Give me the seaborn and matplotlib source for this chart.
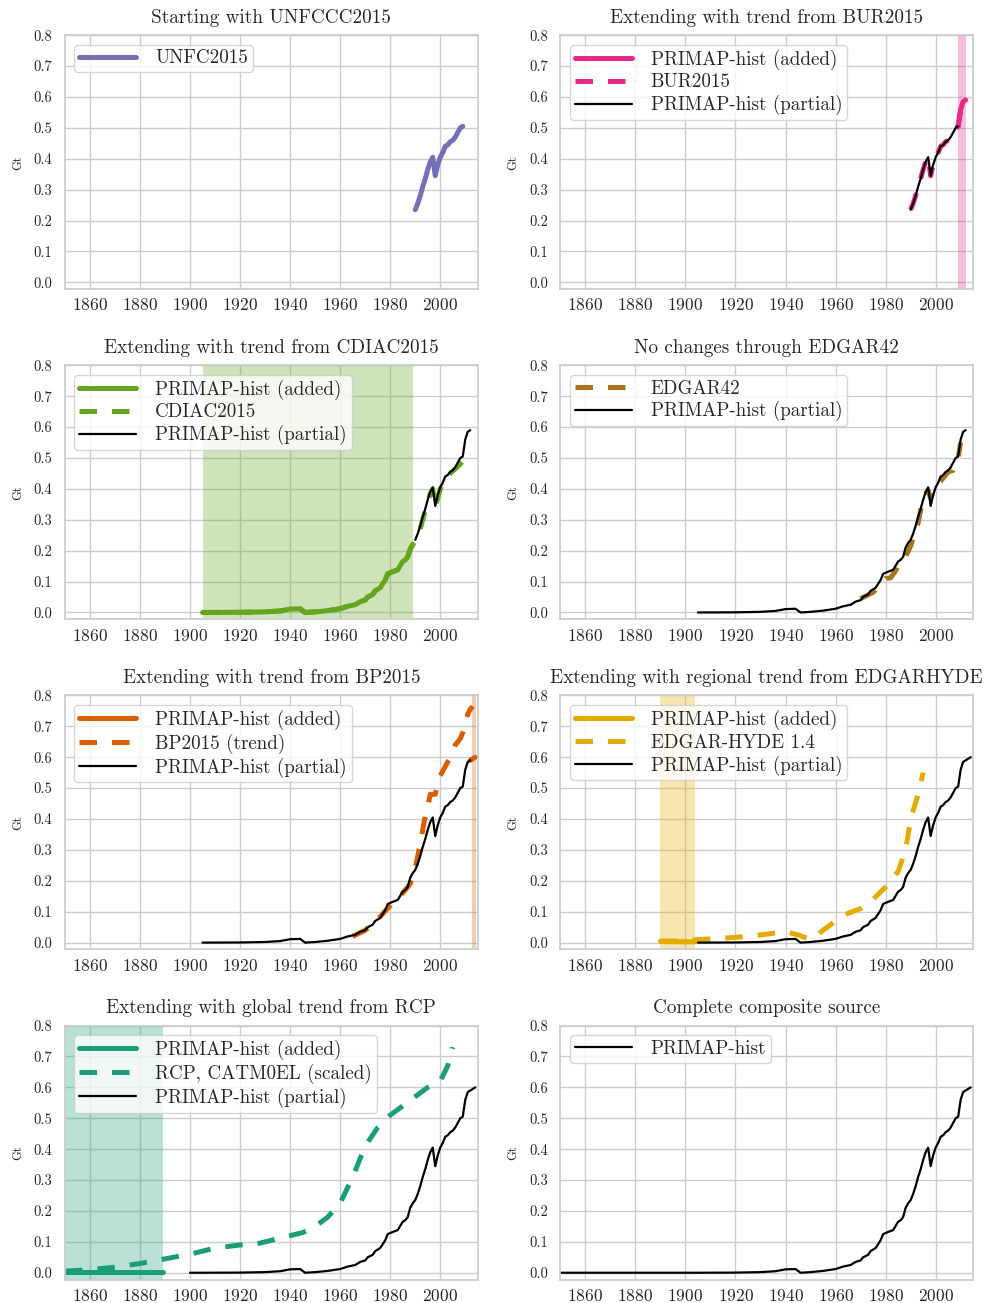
import numpy as np
import pandas as pd
import matplotlib
matplotlib.use("Agg")
import matplotlib.pyplot as plt
import seaborn as sns

# PRIMAP-hist composite
primap_years = [1850, 1900, 1905, 1920, 1930, 1936, 1940, 1944, 1946, 1950, 1955, 1960, 1963, 1966, 1968,
                1970, 1971, 1973, 1974, 1976, 1978, 1979, 1981, 1983, 1985, 1986, 1987, 1988, 1989,
                1990, 1991, 1992, 1993, 1994, 1995, 1996, 1997, 1998, 1999, 2000, 2001, 2002, 2003,
                2004, 2005, 2006, 2007, 2008, 2009, 2010, 2011, 2012, 2013, 2014]
primap_vals = [0.0, 0.0, 0.0, 0.0005, 0.002, 0.005, 0.011, 0.012, 0.0, 0.002, 0.006, 0.012, 0.02, 0.025, 0.035,
               0.04, 0.05, 0.058, 0.07, 0.08, 0.105, 0.125, 0.132, 0.138, 0.165, 0.17, 0.18, 0.21, 0.225,
               0.235, 0.255, 0.28, 0.31, 0.335, 0.365, 0.39, 0.405, 0.345, 0.38, 0.405, 0.42, 0.44, 0.445,
               0.455, 0.46, 0.47, 0.485, 0.5, 0.505, 0.56, 0.585, 0.59, 0.595, 0.6]

unfc_years = [1990, 1991, 1992, 1993, 1994, 1995, 1996, 1997, 1998, 1999, 2000, 2001, 2002, 2003, 2004,
              2005, 2006, 2007, 2008, 2009]
unfc_vals = [0.235, 0.255, 0.28, 0.31, 0.335, 0.365, 0.39, 0.405, 0.345, 0.38, 0.405, 0.42, 0.44, 0.445,
             0.455, 0.46, 0.47, 0.485, 0.5, 0.505]

bur_years = unfc_years + [2010, 2011, 2012]
bur_vals = unfc_vals + [0.56, 0.585, 0.59]
bur_added_years = [2009, 2010, 2011, 2012]
bur_added_vals = [0.505, 0.56, 0.585, 0.59]

cdiac_years = [1905, 1920, 1930, 1936, 1940, 1944, 1946, 1950, 1955, 1960, 1963, 1966, 1968, 1970, 1971,
               1973, 1974, 1976, 1978, 1979, 1981, 1983, 1985, 1986, 1987, 1988, 1989, 1990, 1992, 1994,
               1996, 1997, 1998, 1999, 2000, 2002, 2004, 2006, 2008, 2009, 2010]
cdiac_vals = [0.0, 0.0005, 0.002, 0.005, 0.011, 0.012, 0.0, 0.002, 0.006, 0.012, 0.02, 0.025, 0.035, 0.04, 0.05,
              0.058, 0.07, 0.08, 0.105, 0.125, 0.132, 0.138, 0.165, 0.17, 0.18, 0.205, 0.22, 0.23, 0.27, 0.33,
              0.385, 0.4, 0.34, 0.37, 0.4, 0.435, 0.45, 0.465, 0.48, 0.49, 0.505]
cdiac_added_end = 1989

edgar42_years = [1970, 1975, 1978, 1980, 1982, 1984, 1986, 1988, 1990, 1993, 1995, 1997, 1998, 2000,
                 2002, 2005, 2007, 2009, 2010]
edgar42_vals = [0.045, 0.065, 0.09, 0.11, 0.112, 0.135, 0.165, 0.18, 0.215, 0.29, 0.37, 0.395, 0.37, 0.41,
                0.425, 0.455, 0.46, 0.5, 0.55]

bp_years = [1965, 1970, 1975, 1980, 1985, 1988, 1990, 1992, 1994, 1995, 1996, 1998, 2000, 2002, 2004,
            2006, 2008, 2010, 2011, 2012, 2013]
bp_vals = [0.02, 0.04, 0.075, 0.12, 0.16, 0.19, 0.24, 0.32, 0.41, 0.44, 0.48, 0.48, 0.54, 0.57, 0.6,
           0.64, 0.66, 0.7, 0.74, 0.755, 0.765]
bp_added_years = [2012, 2013, 2014]
bp_added_vals = [0.59, 0.595, 0.6]

hyde_years = [1890, 1900, 1905, 1910, 1920, 1930, 1940, 1945, 1950, 1955, 1960, 1965, 1970, 1975, 1980,
              1985, 1988, 1990, 1993, 1995]
hyde_vals = [0.005, 0.005, 0.01, 0.012, 0.017, 0.025, 0.035, 0.025, 0.01, 0.04, 0.07, 0.095, 0.11, 0.14, 0.18,
             0.23, 0.3, 0.4, 0.48, 0.55]
hyde_added_years = [1890, 1895, 1900, 1904]
hyde_added_vals = [0.004, 0.003, 0.003, 0.003]

rcp_years = [1850, 1860, 1870, 1880, 1890, 1900, 1910, 1920, 1925, 1930, 1940, 1945, 1950, 1955, 1960,
             1965, 1970, 1975, 1980, 1985, 1990, 1995, 2000, 2003, 2005]
rcp_vals = [0.005, 0.01, 0.018, 0.03, 0.045, 0.06, 0.08, 0.09, 0.09, 0.1, 0.12, 0.13, 0.15, 0.18, 0.225,
            0.31, 0.41, 0.47, 0.51, 0.54, 0.57, 0.6, 0.62, 0.67, 0.73]
rcp_added_years = [1850, 1860, 1870, 1880, 1889]
rcp_added_vals = [0.002, 0.002, 0.002, 0.002, 0.002]

titles = ["Starting with UNFCCC2015", "Extending with trend from BUR2015",
          "Extending with trend from CDIAC2015", "No changes through EDGAR42",
          "Extending with trend from BP2015", "Extending with regional trend from EDGARHYDE",
          "Extending with global trend from RCP", "Complete composite source"]

pal = sns.color_palette("Dark2")
purple, pink, green, brown, orange, yellow, teal = pal[2], pal[3], pal[4], pal[6], pal[1], pal[5], pal[0]

sns.set_theme(style="whitegrid")
plt.rcParams["font.family"] = ["cmr10", "DejaVu Serif"]
plt.rcParams["axes.formatter.use_mathtext"] = True
plt.rcParams["mathtext.fontset"] = "cm"

THICK = 3.6
THIN = 1.6
DASH = (3.5, 3)


def primap_part(start, end):
    y = np.array(primap_years)
    v = np.array(primap_vals)
    m = (y >= start) & (y <= end)
    return list(y[m]), list(v[m])


def line(ax, x, y, color, lw, label, dashed=False):
    df = pd.DataFrame({"year": x, "Gt": y})
    l = sns.lineplot(data=df, x="year", y="Gt", ax=ax, color=color, lw=lw, label=label)
    if dashed:
        l.lines[-1].set_dashes(DASH)
    return l


fig, axes = plt.subplots(4, 2, figsize=(9.84, 13.03), dpi=100)
axes = axes.ravel()

# 1
ax = axes[0]
line(ax, unfc_years, unfc_vals, purple, THICK, "UNFC2015")

# 2
ax = axes[1]
ax.axvspan(2009, 2012, color=pink, alpha=0.3, lw=0)
line(ax, bur_added_years, bur_added_vals, pink, THICK, "PRIMAP-hist (added)")
line(ax, bur_years, bur_vals, pink, THICK, "BUR2015", dashed=True)
x, y = primap_part(1990, 2009)
line(ax, x, y, "black", THIN, "PRIMAP-hist (partial)")

# 3
ax = axes[2]
ax.axvspan(1905, cdiac_added_end, color=green, alpha=0.3, lw=0)
m = [i for i, yr in enumerate(cdiac_years) if yr <= cdiac_added_end]
line(ax, [cdiac_years[i] for i in m], [cdiac_vals[i] for i in m], green, THICK, "PRIMAP-hist (added)")
line(ax, cdiac_years, cdiac_vals, green, THICK, "CDIAC2015", dashed=True)
x, y = primap_part(1990, 2012)
line(ax, x, y, "black", THIN, "PRIMAP-hist (partial)")

# 4
ax = axes[3]
line(ax, edgar42_years, edgar42_vals, brown, THICK, "EDGAR42", dashed=True)
x, y = primap_part(1905, 2012)
line(ax, x, y, "black", THIN, "PRIMAP-hist (partial)")

# 5
ax = axes[4]
ax.axvspan(2012.5, 2014.3, color=orange, alpha=0.3, lw=0)
line(ax, bp_added_years, bp_added_vals, orange, THICK, "PRIMAP-hist (added)")
line(ax, bp_years, bp_vals, orange, THICK, "BP2015 (trend)", dashed=True)
x, y = primap_part(1905, 2012)
line(ax, x, y, "black", THIN, "PRIMAP-hist (partial)")

# 6
ax = axes[5]
ax.axvspan(1890, 1904, color=yellow, alpha=0.3, lw=0)
line(ax, hyde_added_years, hyde_added_vals, yellow, THICK, "PRIMAP-hist (added)")
line(ax, hyde_years, hyde_vals, yellow, THICK, "EDGAR-HYDE 1.4", dashed=True)
x, y = primap_part(1905, 2014)
line(ax, x, y, "black", THIN, "PRIMAP-hist (partial)")

# 7
ax = axes[6]
ax.axvspan(1850, 1889, color=teal, alpha=0.3, lw=0)
line(ax, rcp_added_years, rcp_added_vals, teal, THICK, "PRIMAP-hist (added)")
line(ax, rcp_years, rcp_vals, teal, THICK, "RCP, CATM0EL (scaled)", dashed=True)
x, y = primap_part(1890, 2014)
line(ax, x, y, "black", THIN, "PRIMAP-hist (partial)")

# 8
ax = axes[7]
line(ax, primap_years, primap_vals, "black", THIN, "PRIMAP-hist")

for ax, t in zip(axes, titles):
    ax.set_xlim(1850, 2015)
    ax.set_ylim(-0.022, 0.8)
    ax.set_xticks(np.arange(1860, 2001, 20))
    ax.set_yticks(np.arange(0, 0.81, 0.1))
    ax.set_yticklabels([f"{v:.1f}" for v in np.arange(0, 0.81, 0.1)], fontsize=10.5)
    ax.tick_params(axis="x", labelsize=12.5, pad=0)
    ax.tick_params(axis="y", pad=3)
    ax.set_xlabel("")
    ax.set_ylabel("Gt", fontsize=9, labelpad=7)
    ax.set_title(t, fontsize=13.8, pad=9)
    ax.legend(loc="upper left", fontsize=13.7, handlelength=3, handletextpad=1.0,
              borderpad=0.25, labelspacing=0.2, frameon=True)

fig.subplots_adjust(left=0.066, right=0.989, top=0.973, bottom=0.018, wspace=0.2, hspace=0.3)
fig.savefig("out.png", dpi=100)
